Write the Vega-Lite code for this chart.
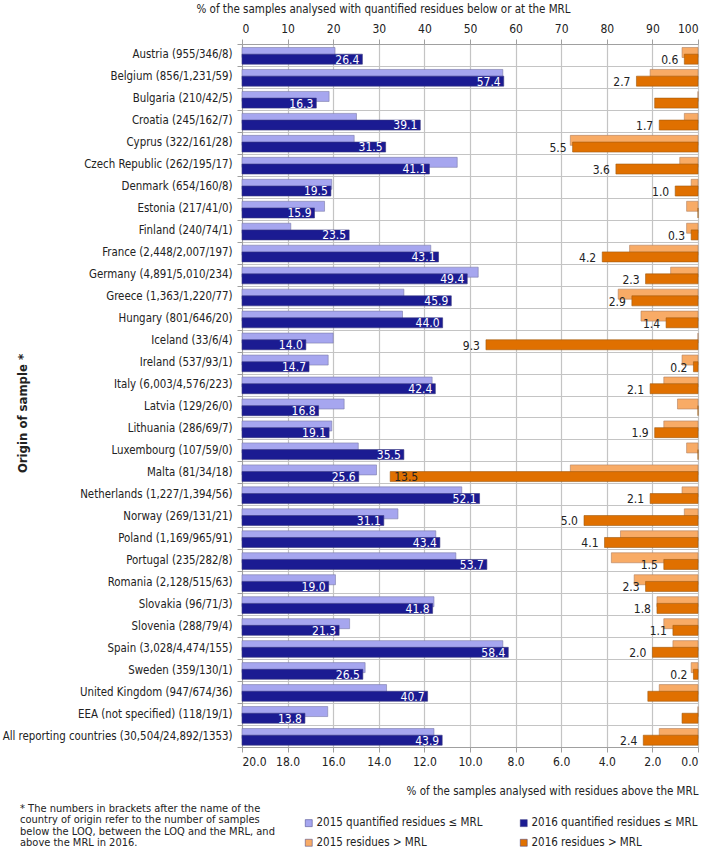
{
  "$schema": "https://vega.github.io/schema/vega-lite/v6.json",
  "autosize": {"type": "none"},
  "padding": {"left": 242, "top": 44, "right": 11, "bottom": 102},
  "width": 456,
  "height": 703,
  "background": "white",
  "config": {
    "font": "DejaVu Sans Condensed, Liberation Sans, sans-serif",
    "view": {"stroke": null},
    "axis": {
      "labelFontSize": 12,
      "labelColor": "#222222",
      "titleColor": "#222222",
      "titleFontSize": 11.5,
      "titleFontWeight": "normal",
      "domainColor": "#a0a0a0",
      "tickColor": "#a0a0a0",
      "gridColor": "#c4c4c4",
      "gridWidth": 1.2
    }
  },
  "title": {
    "text": ["* The numbers in brackets after the name of the", "country of origin refer to the number of samples", "below the LOQ, between the LOQ and the MRL, and", "above the MRL in 2016."],
    "orient": "bottom",
    "anchor": "start",
    "frame": "group",
    "align": "left",
    "baseline": "top",
    "fontSize": 11,
    "fontWeight": "normal",
    "color": "#222222",
    "lineHeight": 11.4,
    "dx": -222,
    "dy": -56,
    "offset": 10
  },
  "datasets": {
    "d": [
      {"c": "Austria (955/346/8)", "s": "q15", "v": 20.4}, {"c": "Austria (955/346/8)", "s": "q16", "v": 26.4}, {"c": "Austria (955/346/8)", "s": "m15", "v": 0.7}, {"c": "Austria (955/346/8)", "s": "m16", "v": 0.6},
      {"c": "Belgium (856/1,231/59)", "s": "q15", "v": 57.2}, {"c": "Belgium (856/1,231/59)", "s": "q16", "v": 57.4}, {"c": "Belgium (856/1,231/59)", "s": "m15", "v": 2.1}, {"c": "Belgium (856/1,231/59)", "s": "m16", "v": 2.7},
      {"c": "Bulgaria (210/42/5)", "s": "q15", "v": 19.1}, {"c": "Bulgaria (210/42/5)", "s": "q16", "v": 16.3}, {"c": "Bulgaria (210/42/5)", "s": "m15", "v": 0}, {"c": "Bulgaria (210/42/5)", "s": "m16", "v": 1.9},
      {"c": "Croatia (245/162/7)", "s": "q15", "v": 25.1}, {"c": "Croatia (245/162/7)", "s": "q16", "v": 39.1}, {"c": "Croatia (245/162/7)", "s": "m15", "v": 0.6}, {"c": "Croatia (245/162/7)", "s": "m16", "v": 1.7},
      {"c": "Cyprus (322/161/28)", "s": "q15", "v": 24.6}, {"c": "Cyprus (322/161/28)", "s": "q16", "v": 31.5}, {"c": "Cyprus (322/161/28)", "s": "m15", "v": 5.6}, {"c": "Cyprus (322/161/28)", "s": "m16", "v": 5.5},
      {"c": "Czech Republic (262/195/17)", "s": "q15", "v": 47.2}, {"c": "Czech Republic (262/195/17)", "s": "q16", "v": 41.1}, {"c": "Czech Republic (262/195/17)", "s": "m15", "v": 0.8}, {"c": "Czech Republic (262/195/17)", "s": "m16", "v": 3.6},
      {"c": "Denmark (654/160/8)", "s": "q15", "v": 19.7}, {"c": "Denmark (654/160/8)", "s": "q16", "v": 19.5}, {"c": "Denmark (654/160/8)", "s": "m15", "v": 0.3}, {"c": "Denmark (654/160/8)", "s": "m16", "v": 1.0},
      {"c": "Estonia (217/41/0)", "s": "q15", "v": 18.1}, {"c": "Estonia (217/41/0)", "s": "q16", "v": 15.9}, {"c": "Estonia (217/41/0)", "s": "m15", "v": 0.5}, {"c": "Estonia (217/41/0)", "s": "m16", "v": 0},
      {"c": "Finland (240/74/1)", "s": "q15", "v": 10.7}, {"c": "Finland (240/74/1)", "s": "q16", "v": 23.5}, {"c": "Finland (240/74/1)", "s": "m15", "v": 0.5}, {"c": "Finland (240/74/1)", "s": "m16", "v": 0.3},
      {"c": "France (2,448/2,007/197)", "s": "q15", "v": 41.4}, {"c": "France (2,448/2,007/197)", "s": "q16", "v": 43.1}, {"c": "France (2,448/2,007/197)", "s": "m15", "v": 3.0}, {"c": "France (2,448/2,007/197)", "s": "m16", "v": 4.2},
      {"c": "Germany (4,891/5,010/234)", "s": "q15", "v": 51.8}, {"c": "Germany (4,891/5,010/234)", "s": "q16", "v": 49.4}, {"c": "Germany (4,891/5,010/234)", "s": "m15", "v": 1.2}, {"c": "Germany (4,891/5,010/234)", "s": "m16", "v": 2.3},
      {"c": "Greece (1,363/1,220/77)", "s": "q15", "v": 35.5}, {"c": "Greece (1,363/1,220/77)", "s": "q16", "v": 45.9}, {"c": "Greece (1,363/1,220/77)", "s": "m15", "v": 3.5}, {"c": "Greece (1,363/1,220/77)", "s": "m16", "v": 2.9},
      {"c": "Hungary (801/646/20)", "s": "q15", "v": 35.2}, {"c": "Hungary (801/646/20)", "s": "q16", "v": 44.0}, {"c": "Hungary (801/646/20)", "s": "m15", "v": 2.5}, {"c": "Hungary (801/646/20)", "s": "m16", "v": 1.4},
      {"c": "Iceland (33/6/4)", "s": "q15", "v": 20.0}, {"c": "Iceland (33/6/4)", "s": "q16", "v": 14.0}, {"c": "Iceland (33/6/4)", "s": "m15", "v": 0}, {"c": "Iceland (33/6/4)", "s": "m16", "v": 9.3},
      {"c": "Ireland (537/93/1)", "s": "q15", "v": 18.9}, {"c": "Ireland (537/93/1)", "s": "q16", "v": 14.7}, {"c": "Ireland (537/93/1)", "s": "m15", "v": 0.7}, {"c": "Ireland (537/93/1)", "s": "m16", "v": 0.2},
      {"c": "Italy (6,003/4,576/223)", "s": "q15", "v": 41.7}, {"c": "Italy (6,003/4,576/223)", "s": "q16", "v": 42.4}, {"c": "Italy (6,003/4,576/223)", "s": "m15", "v": 1.5}, {"c": "Italy (6,003/4,576/223)", "s": "m16", "v": 2.1},
      {"c": "Latvia (129/26/0)", "s": "q15", "v": 22.4}, {"c": "Latvia (129/26/0)", "s": "q16", "v": 16.8}, {"c": "Latvia (129/26/0)", "s": "m15", "v": 0.9}, {"c": "Latvia (129/26/0)", "s": "m16", "v": 0},
      {"c": "Lithuania (286/69/7)", "s": "q15", "v": 19.7}, {"c": "Lithuania (286/69/7)", "s": "q16", "v": 19.1}, {"c": "Lithuania (286/69/7)", "s": "m15", "v": 1.5}, {"c": "Lithuania (286/69/7)", "s": "m16", "v": 1.9},
      {"c": "Luxembourg (107/59/0)", "s": "q15", "v": 25.5}, {"c": "Luxembourg (107/59/0)", "s": "q16", "v": 35.5}, {"c": "Luxembourg (107/59/0)", "s": "m15", "v": 0.5}, {"c": "Luxembourg (107/59/0)", "s": "m16", "v": 0},
      {"c": "Malta (81/34/18)", "s": "q15", "v": 29.5}, {"c": "Malta (81/34/18)", "s": "q16", "v": 25.6}, {"c": "Malta (81/34/18)", "s": "m15", "v": 5.6}, {"c": "Malta (81/34/18)", "s": "m16", "v": 13.5},
      {"c": "Netherlands (1,227/1,394/56)", "s": "q15", "v": 48.2}, {"c": "Netherlands (1,227/1,394/56)", "s": "q16", "v": 52.1}, {"c": "Netherlands (1,227/1,394/56)", "s": "m15", "v": 0.7}, {"c": "Netherlands (1,227/1,394/56)", "s": "m16", "v": 2.1},
      {"c": "Norway (269/131/21)", "s": "q15", "v": 34.2}, {"c": "Norway (269/131/21)", "s": "q16", "v": 31.1}, {"c": "Norway (269/131/21)", "s": "m15", "v": 0.6}, {"c": "Norway (269/131/21)", "s": "m16", "v": 5.0},
      {"c": "Poland (1,169/965/91)", "s": "q15", "v": 42.5}, {"c": "Poland (1,169/965/91)", "s": "q16", "v": 43.4}, {"c": "Poland (1,169/965/91)", "s": "m15", "v": 3.4}, {"c": "Poland (1,169/965/91)", "s": "m16", "v": 4.1},
      {"c": "Portugal (235/282/8)", "s": "q15", "v": 46.9}, {"c": "Portugal (235/282/8)", "s": "q16", "v": 53.7}, {"c": "Portugal (235/282/8)", "s": "m15", "v": 3.8}, {"c": "Portugal (235/282/8)", "s": "m16", "v": 1.5},
      {"c": "Romania (2,128/515/63)", "s": "q15", "v": 20.5}, {"c": "Romania (2,128/515/63)", "s": "q16", "v": 19.0}, {"c": "Romania (2,128/515/63)", "s": "m15", "v": 2.8}, {"c": "Romania (2,128/515/63)", "s": "m16", "v": 2.3},
      {"c": "Slovakia (96/71/3)", "s": "q15", "v": 42.1}, {"c": "Slovakia (96/71/3)", "s": "q16", "v": 41.8}, {"c": "Slovakia (96/71/3)", "s": "m15", "v": 1.8}, {"c": "Slovakia (96/71/3)", "s": "m16", "v": 1.8},
      {"c": "Slovenia (288/79/4)", "s": "q15", "v": 23.6}, {"c": "Slovenia (288/79/4)", "s": "q16", "v": 21.3}, {"c": "Slovenia (288/79/4)", "s": "m15", "v": 1.5}, {"c": "Slovenia (288/79/4)", "s": "m16", "v": 1.1},
      {"c": "Spain (3,028/4,474/155)", "s": "q15", "v": 57.2}, {"c": "Spain (3,028/4,474/155)", "s": "q16", "v": 58.4}, {"c": "Spain (3,028/4,474/155)", "s": "m15", "v": 1.1}, {"c": "Spain (3,028/4,474/155)", "s": "m16", "v": 2.0},
      {"c": "Sweden (359/130/1)", "s": "q15", "v": 27.0}, {"c": "Sweden (359/130/1)", "s": "q16", "v": 26.5}, {"c": "Sweden (359/130/1)", "s": "m15", "v": 0.3}, {"c": "Sweden (359/130/1)", "s": "m16", "v": 0.2},
      {"c": "United Kingdom (947/674/36)", "s": "q15", "v": 31.7}, {"c": "United Kingdom (947/674/36)", "s": "q16", "v": 40.7}, {"c": "United Kingdom (947/674/36)", "s": "m15", "v": 1.7}, {"c": "United Kingdom (947/674/36)", "s": "m16", "v": 2.2},
      {"c": "EEA (not specified) (118/19/1)", "s": "q15", "v": 18.8}, {"c": "EEA (not specified) (118/19/1)", "s": "q16", "v": 13.8}, {"c": "EEA (not specified) (118/19/1)", "s": "m15", "v": 0}, {"c": "EEA (not specified) (118/19/1)", "s": "m16", "v": 0.7},
      {"c": "All reporting countries (30,504/24,892/1353)", "s": "q15", "v": 42.1}, {"c": "All reporting countries (30,504/24,892/1353)", "s": "q16", "v": 43.9}, {"c": "All reporting countries (30,504/24,892/1353)", "s": "m15", "v": 1.7}, {"c": "All reporting countries (30,504/24,892/1353)", "s": "m16", "v": 2.4}
    ]
  },
  "data": {"name": "d"},
  "encoding": {
    "y": {
      "field": "c",
      "type": "nominal",
      "sort": null,
      "scale": {"paddingInner": 0, "paddingOuter": 0},
      "axis": {
        "title": "Origin of sample *",
        "titleFontWeight": "bold",
        "titleFontSize": 13,
        "titleX": -220,
        "titleY": 369,
        "titleAngle": -90,
        "titleAlign": "center",
        "titleBaseline": "middle",
        "tickBand": "extent",
        "grid": true,
        "tickSize": 5,
        "labelPadding": 5,
        "labelFontSize": 11.4,
        "labelLimit": 260
      }
    }
  },
  "layer": [
    {
      "encoding": {
        "x": {
          "field": "v",
          "type": "quantitative",
          "scale": {"domain": [0, 100], "nice": false},
          "axis": {
            "orient": "top",
            "values": [0, 10, 20, 30, 40, 50, 60, 70, 80, 90, 100],
            "grid": true,
            "tickSize": 5,
            "labelPadding": 4,
            "title": "% of the samples analysed with quantified residues below or at the MRL",
            "titleX": 141,
            "titleY": -35,
            "titleAlign": "center",
            "titleBaseline": "middle"
          }
        }
      },
      "layer": [
        {
          "transform": [{"filter": "datum.s === 'q15'"}],
          "mark": {"type": "bar", "height": 10, "yOffset": -2.5, "stroke": "#7a7aa8", "strokeWidth": 0.6},
          "encoding": {
            "color": {
              "field": "s", "type": "nominal",
              "scale": {"domain": ["q15", "q16", "m15", "m16"], "range": ["#a6a6ef", "#1b1b92", "#f8ab66", "#e07000"]},
              "legend": {
                "title": null, "orient": "none", "legendX": 61, "legendY": 773, "columns": 2, "direction": "horizontal",
                "columnPadding": 35, "rowPadding": 7, "symbolType": "square", "symbolSize": 49,
                "symbolStrokeColor": "#999999", "symbolStrokeWidth": 0.5, "labelFontSize": 11.5, "labelColor": "#222222",
                "labelLimit": 300, "labelOffset": 2,
                "labelExpr": "{'q15': '2015 quantified residues ≤ MRL', 'q16': '2016 quantified residues ≤ MRL', 'm15': '2015 residues > MRL', 'm16': '2016 residues > MRL'}[datum.label]"
              }
            }
          }
        },
        {
          "transform": [{"filter": "datum.s === 'q16'"}],
          "mark": {"type": "bar", "height": 10, "yOffset": 4.2, "stroke": "#3a3a80", "strokeWidth": 0.6},
          "encoding": {
            "color": {
              "field": "s", "type": "nominal",
              "scale": {"domain": ["q15", "q16", "m15", "m16"], "range": ["#a6a6ef", "#1b1b92", "#f8ab66", "#e07000"]}
            }
          }
        },
        {
          "transform": [{"filter": "datum.s === 'q16'"}],
          "mark": {"type": "text", "align": "right", "baseline": "middle", "dx": -3, "dy": 4.6, "color": "white", "fontSize": 12},
          "encoding": {"text": {"field": "v", "type": "quantitative", "format": ".1f"}}
        }
      ]
    },
    {
      "encoding": {
        "x": {
          "field": "v",
          "type": "quantitative",
          "scale": {"domain": [0, 20], "reverse": true, "nice": false},
          "axis": {
            "orient": "bottom",
            "values": [0, 2, 4, 6, 8, 10, 12, 14, 16, 18, 20],
            "format": ".1f",
            "grid": false,
            "tickSize": 5,
            "labelPadding": 4,
            "title": "% of the samples analysed with residues above the MRL",
            "titleX": 456,
            "titleY": 44,
            "titleAlign": "right",
            "titleBaseline": "middle"
          }
        }
      },
      "layer": [
        {
          "transform": [{"filter": "datum.s === 'm15'"}],
          "mark": {"type": "bar", "height": 10, "yOffset": -2.5, "stroke": "#b08060", "strokeWidth": 0.6},
          "encoding": {
            "color": {
              "field": "s", "type": "nominal",
              "scale": {"domain": ["q15", "q16", "m15", "m16"], "range": ["#a6a6ef", "#1b1b92", "#f8ab66", "#e07000"]}
            }
          }
        },
        {
          "transform": [{"filter": "datum.s === 'm16'"}],
          "mark": {"type": "bar", "height": 10, "yOffset": 4.2, "stroke": "#a05a10", "strokeWidth": 0.6},
          "encoding": {
            "color": {
              "field": "s", "type": "nominal",
              "scale": {"domain": ["q15", "q16", "m15", "m16"], "range": ["#a6a6ef", "#1b1b92", "#f8ab66", "#e07000"]}
            }
          }
        },
        {
          "transform": [{"filter": "datum.s === 'm16' && datum.v > 0 && datum.v <= 10 && !test(/^(Bulgaria|United Kingdom|EEA)/, datum.c)"}],
          "mark": {"type": "text", "align": "right", "baseline": "middle", "dx": -6, "dy": 5, "color": "#222222", "fontSize": 12},
          "encoding": {"text": {"field": "v", "type": "quantitative", "format": ".1f"}}
        },
        {
          "transform": [{"filter": "datum.s === 'm16' && datum.v > 10"}],
          "mark": {"type": "text", "align": "left", "baseline": "middle", "dx": 4, "dy": 5, "color": "#222222", "fontSize": 12},
          "encoding": {"text": {"field": "v", "type": "quantitative", "format": ".1f"}}
        }
      ]
    }
  ],
  "resolve": {"scale": {"x": "independent"}}
}
